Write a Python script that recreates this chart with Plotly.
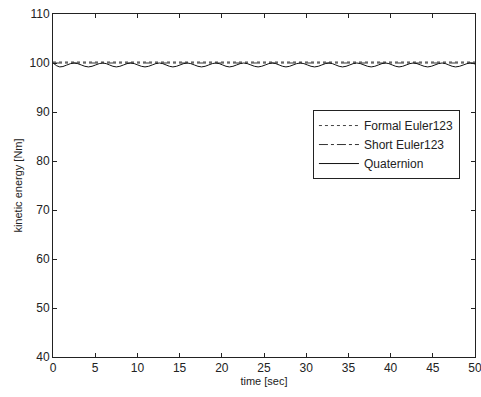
import plotly.graph_objects as go

# Quaternion: oscillation (peaks/troughs)
t_quat = [0, 0.8, 2.5, 4.2, 5.9, 7.5, 9.2, 10.9, 12.6, 14.2, 15.9, 17.6, 19.3, 20.9, 22.6,
          24.3, 26.0, 27.6, 29.3, 31.0, 32.7, 34.3, 36.0, 37.7, 39.4, 41.0, 42.7, 44.4,
          46.1, 47.7, 49.4, 50]
e_quat = [100.0, 99.2, 100.0, 99.2, 100.0, 99.2, 100.0, 99.2, 100.0, 99.2, 100.0, 99.2,
          100.0, 99.2, 100.0, 99.2, 100.0, 99.2, 100.0, 99.2, 100.0, 99.2, 100.0, 99.2,
          100.0, 99.2, 100.0, 99.2, 100.0, 99.2, 100.0, 99.8]

t_formal = [0, 10, 20, 30, 40, 50]
e_formal = [100.2, 100.2, 100.2, 100.2, 100.2, 100.2]

t_short = [0, 10, 20, 30, 40, 50]
e_short = [100.0, 100.0, 100.0, 100.0, 100.0, 100.0]

x_ticks = [0, 5, 10, 15, 20, 25, 30, 35, 40, 45, 50]
y_ticks = [40, 50, 60, 70, 80, 90, 100, 110]

fig = go.Figure()
fig.add_trace(go.Scatter(x=t_formal, y=e_formal, mode="lines", name="Formal Euler123",
                         line=dict(color="#444", width=1, dash="dot")))
fig.add_trace(go.Scatter(x=t_short, y=e_short, mode="lines", name="Short Euler123",
                         line=dict(color="#333", width=1, dash="dashdot")))
fig.add_trace(go.Scatter(x=t_quat, y=e_quat, mode="lines", name="Quaternion",
                         line=dict(color="#111", width=1, shape="spline")))

axis_common = dict(showgrid=False, zeroline=False, showline=True, linecolor="#222",
                   linewidth=1, mirror="ticks", ticks="inside", ticklen=4,
                   tickcolor="#222", automargin=False, ticklabeloverflow="allow",
                   tickfont=dict(family="Arial", size=12, color="#222"))

fig.update_layout(
    width=481, height=397,
    margin=dict(l=53, r=6, t=14, b=40),
    plot_bgcolor="white", paper_bgcolor="white",
    font=dict(family="Arial", size=11, color="#222"),
    xaxis=dict(range=[0, 50], tickvals=x_ticks,
               title=dict(text="time [sec]", font=dict(size=11), standoff=2), **axis_common),
    yaxis=dict(range=[40, 110], tickvals=y_ticks,
               title=dict(text="kinetic energy [Nm]", font=dict(size=11), standoff=4), **axis_common),
    legend=dict(x=0.616, y=0.72, xanchor="left", yanchor="top", bgcolor="white",
                bordercolor="#222", borderwidth=1, font=dict(family="Arial", size=12),
                tracegroupgap=0, itemwidth=40),
    showlegend=True,
)

fig.write_html("out.html")
